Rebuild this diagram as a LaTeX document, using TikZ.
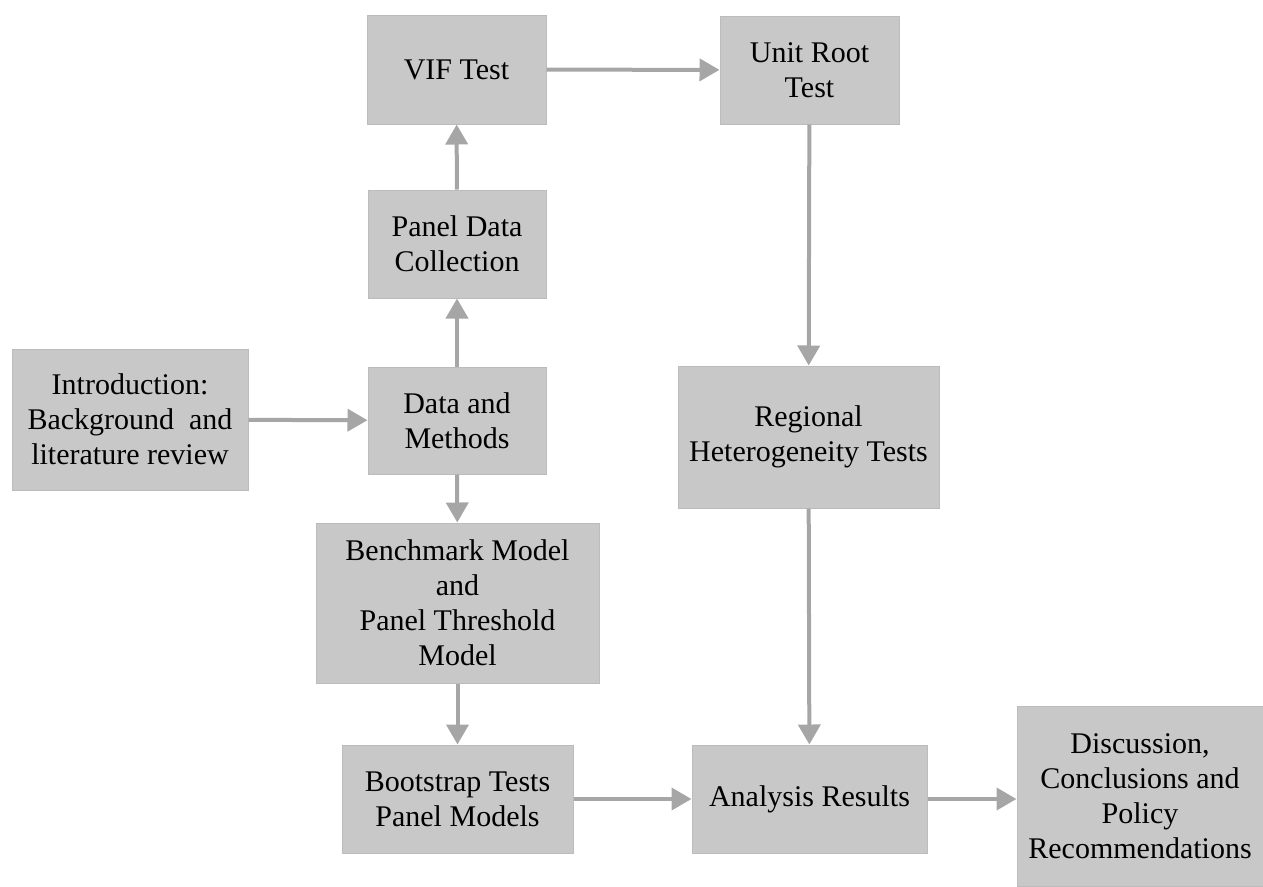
\documentclass[tikz,border=0pt]{standalone}
\usepackage{fontspec}
\setmainfont{Liberation Serif}
\usetikzlibrary{arrows.meta}
\definecolor{boxgray}{HTML}{C8C8C8}
\definecolor{boxedge}{HTML}{BCBCBC}
\definecolor{arrowgray}{HTML}{A6A6A6}
\tikzset{
  stage/.style={draw=boxedge, line width=1pt, fill=boxgray, align=center,
    inner sep=0pt, font=\fontsize{30}{35}\selectfont},
  flow/.style={draw=arrowgray, line width=4pt,
    -{Triangle[length=20pt,width=22pt]}}
}
\begin{document}
\begin{tikzpicture}[x=1pt,y=-1pt]
      \useasboundingbox (0,0) rectangle (1263,886);
      \node[stage, minimum width=179, minimum height=109] (vif) at (456.5,69.5) {VIF Test};
      \node[stage, minimum width=179, minimum height=108] (unit) at (809.5,70) {Unit Root\\Test};
      \node[stage, minimum width=178, minimum height=108] (panel) at (457,244) {Panel Data\\Collection};
      \node[stage, minimum width=236, minimum height=141] (intro) at (130,419.5) {Introduction:\\Background~ and\\literature review};
      \node[stage, minimum width=178, minimum height=107] (data) at (457,420.5) {Data and\\Methods};
      \node[stage, minimum width=261, minimum height=142] (regional) at (808.5,437) {Regional\\Heterogeneity Tests};
      \node[stage, minimum width=283, minimum height=160] (bench) at (457.5,603) {Benchmark Model\\and\\Panel Threshold\\Model};
      \node[stage, minimum width=231, minimum height=108] (boot) at (457.5,799) {Bootstrap Tests\\Panel Models};
      \node[stage, minimum width=235, minimum height=108] (analysis) at (809.5,799) {Analysis Results};
      \node[stage, minimum width=246, minimum height=180] (disc) at (1140,796) {Discussion,\\Conclusions and\\Policy\\Recommendations};
      \begin{scope}[flow]
        \draw (vif) to (unit);
        \draw (intro) to (data);
        \draw (data) to (panel);
        \draw (panel) to (vif);
        \draw (data) to (bench);
        \draw (bench) to (boot);
        \draw (unit) to (regional);
        \draw (regional) to (analysis);
        \draw (boot) to (analysis);
        \draw (analysis) to (analysis.east -| disc.west);
      \end{scope}
    \end{tikzpicture}
\end{document}
